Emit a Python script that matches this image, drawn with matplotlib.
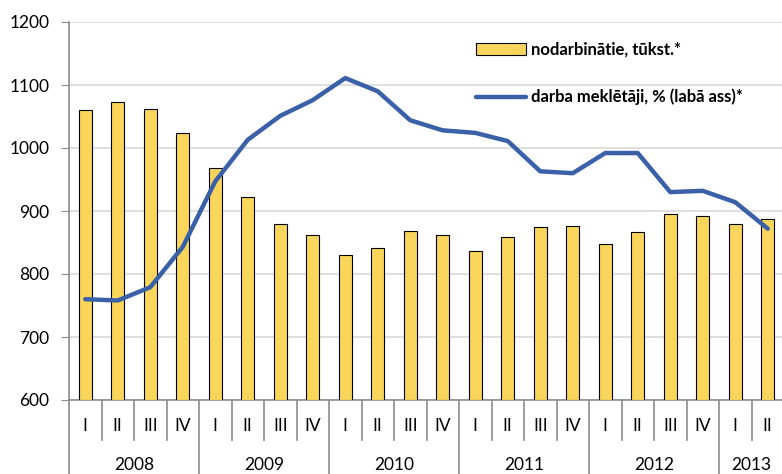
import numpy as np
from matplotlib import pyplot as plt
from matplotlib.lines import Line2D

plt.rcParams['font.family'] = ['Lato', 'DejaVu Sans']

years = ['2008', '2009', '2010', '2011', '2012', '2013']
quarters = ['I', 'II', 'III', 'IV'] * 5 + ['I', 'II']

# employed, thousands (left axis)
employed = [1060, 1073, 1062, 1024,
            968, 923, 879, 862,
            830, 841, 868, 862,
            836, 858, 875, 876,
            848, 867, 895, 892,
            880, 888]

# job seekers (right axis, read in left-axis units since right axis is cut off)
seekers = [760, 758, 779, 843,
           947, 1013, 1051, 1076,
           1111, 1090, 1044, 1028,
           1024, 1011, 963, 960,
           992, 992, 930, 932,
           914, 872]

label_bar = 'nodarbinātie, tūkst.*'
label_line = 'darba meklētāji, % (labā ass)*'

W, H = 782, 474
fig = plt.figure(figsize=(W/100, H/100), dpi=100)
ax_h = 378
ax = fig.add_axes([69/W, 1-400/H, 715/W, ax_h/H])

x = np.arange(len(employed))
bars = ax.bar(x, np.array(employed)-600, bottom=600, width=0.4, color='#F9D65B',
              edgecolor='black', linewidth=0.8, zorder=3)
ax.set_xlim(-0.5, len(x)-0.5)
ax.set_ylim(600, 1200)
ax.set_yticks(range(600, 1201, 100))
ax.yaxis.grid(True, color='#D9D9D9', linewidth=1.2, zorder=0)
ax.set_axisbelow(True)
for s in ['top', 'right']:
    ax.spines[s].set_visible(False)
for s in ['left', 'bottom']:
    ax.spines[s].set_color('#8C8C8C')
    ax.spines[s].set_linewidth(1.2)
ax.tick_params(axis='y', length=6, color='#8C8C8C', labelsize=12.5, pad=8)
ax.set_xticks([])

ax2 = ax.twinx()
ax2.set_ylim(600, 1200)
ax2.set_xlim(-0.5, len(x)-0.5)
ln, = ax2.plot(x, seekers, color='#3A61A8', linewidth=3.2, solid_capstyle='round', zorder=4)
ax2.axis('off')

# two-level category axis
tr = ax.get_xaxis_transform()
px = 1/ax_h
for k in range(len(x)+1):
    pos = k-0.5
    depth = 80 if (k % 4 == 0 or k == len(x)) else 40
    ax.add_line(Line2D([pos, pos], [0, -depth*px], transform=tr, color='#8C8C8C',
                       linewidth=1.2, clip_on=False))
for i, q in enumerate(quarters):
    ax.text(i, -26*px, q, transform=tr, ha='center', va='center', fontsize=12.5)
for j, yr in enumerate(years):
    n = min(4, len(x)-4*j)
    ax.text(4*j + (n-1)/2, -65*px, yr, transform=tr, ha='center', va='center', fontsize=12.5)

leg = ax2.legend([bars, ln], [label_bar, label_line], loc='upper left',
                 bbox_to_anchor=(407/715, 1-20/ax_h), frameon=False,
                 borderpad=0, borderaxespad=0,
                 handlelength=3.0, labelspacing=1.85, handletextpad=0.3,
                 prop={'weight': 'bold', 'size': 12})

plt.savefig('out.png', dpi=100)
